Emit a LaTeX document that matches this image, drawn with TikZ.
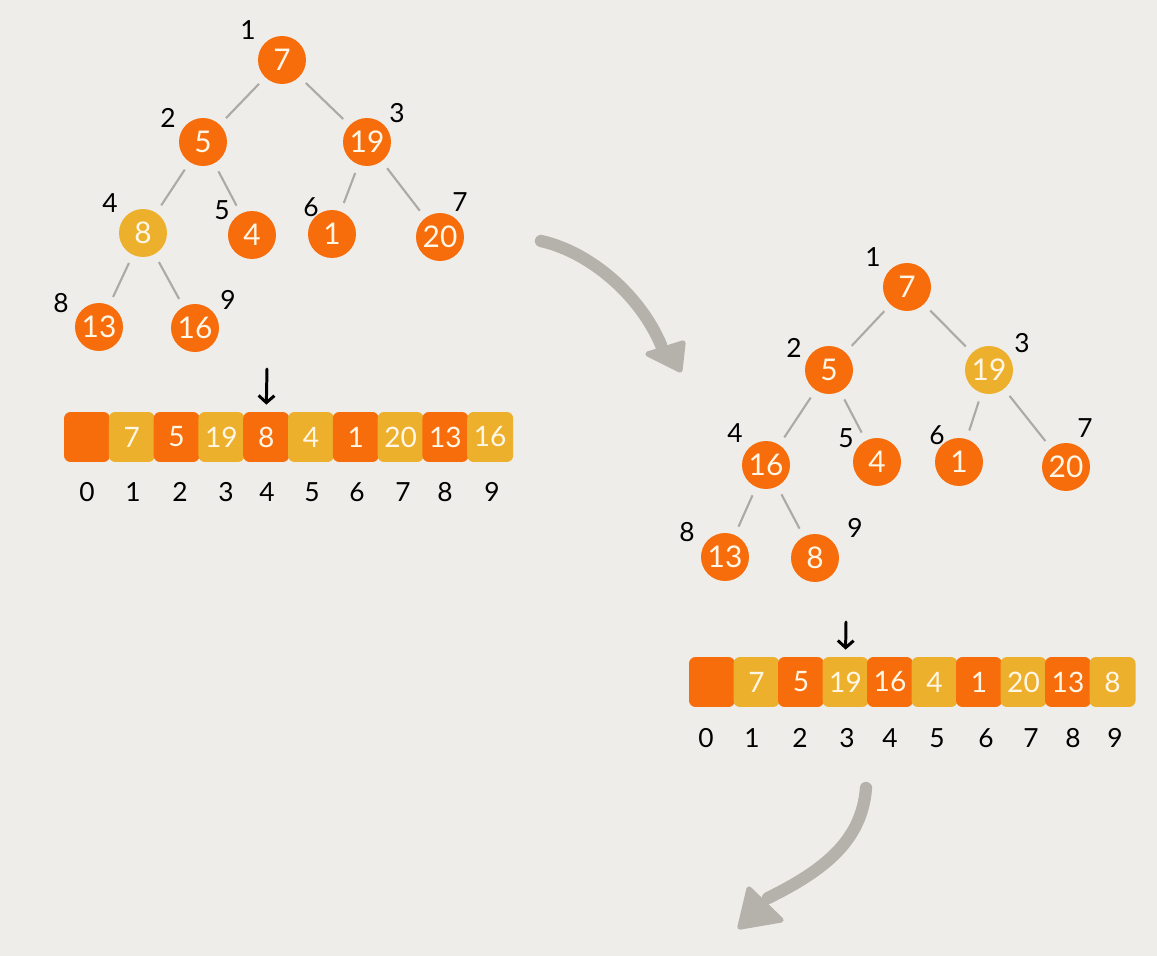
\documentclass[tikz,border=0pt]{standalone}
\usepackage{fontspec}
\setmainfont{Lato}
\usetikzlibrary{arrows.meta}
\definecolor{bg}{HTML}{EEEDE9}
\definecolor{org}{HTML}{F76D0B}
\definecolor{yel}{HTML}{EDB02C}
\definecolor{edgec}{HTML}{ABAAA5}
\definecolor{arrc}{HTML}{B4B2AA}
\definecolor{txt}{HTML}{FFF6E6}
\begin{document}
\begin{tikzpicture}[x=0.02cm,y=-0.02cm,
  onode/.style={circle,fill=org,minimum size=0.96cm,inner sep=0pt,text=txt,font=\fontsize{17}{17}\selectfont},
  ynode/.style={onode,fill=yel},
  lbl/.style={inner sep=0pt,text=black,font=\fontsize{15}{15}\selectfont},
  ocell/.style={rounded corners=0.13cm,fill=org,minimum width=0.92cm,minimum height=1.0cm,inner sep=0pt,text=txt,font=\fontsize{16}{16}\selectfont},
  ycell/.style={ocell,fill=yel},
  tedge/.style={edgec,line width=1.2pt,shorten <=5pt,shorten >=5pt},
  bigarrow/.style={arrc,line width=7pt,line cap=round},
  arrhead/.style={fill=arrc,draw=arrc,line width=3pt,line join=round},
  ptr/.style={-{Straight Barb[length=4pt,width=9pt]},line width=1.7pt,black,line cap=round,shorten >=4pt}
]
\fill[bg] (0,0) rectangle (1157,956);
\useasboundingbox (0,0) rectangle (1157,956);

% ---------- left tree ----------
\node[onode] (a1) at (282,60) {7};
\node[onode] (a2) at (203,142) {5};
\node[onode] (a3) at (367,142) {19};
\node[ynode] (a4) at (143,233) {8};
\node[onode] (a5) at (252,235) {4};
\node[onode] (a6) at (332,234) {1};
\node[onode] (a7) at (440,237) {20};
\node[onode] (a8) at (99,327) {13};
\node[onode] (a9) at (195,328) {16};
\draw[tedge] (a1) -- (a2);
\draw[tedge] (a1) -- (a3);
\draw[tedge] (a2) -- (a4);
\draw[tedge] (a2) -- (a5);
\draw[tedge] (a3) -- (a6);
\draw[tedge] (a3) -- (a7);
\draw[tedge] (a4) -- (a8);
\draw[tedge] (a4) -- (a9);
\node[lbl] (al1) at (248,30) {1};
\node[lbl] (al2) at (168,118) {2};
\node[lbl] (al3) at (397,113) {3};
\node[lbl] (al4) at (110,203) {4};
\node[lbl] (al5) at (222,210) {5};
\node[lbl] (al6) at (311,207) {6};
\node[lbl] (al7) at (460,202) {7};
\node[lbl] (al8) at (61,303) {8};
\node[lbl] (al9) at (228,300) {9};

% ---------- left array ----------
\foreach \i/\v/\s/\lx in {0//ocell/87,1/7/ycell/133,2/5/ocell/180,3/19/ycell/226,4/8/ocell/267,5/4/ycell/312,6/1/ocell/357,7/20/ycell/403,8/13/ocell/445,9/16/ycell/492}{
  \node[\s] (L\i) at ({87+44.8*\i},437) {\v};
  \node[lbl] (Li\i) at (\lx,492) {\i};
}
\coordinate (Lp) at (267,369);
\draw[ptr] (Lp) -- (L4.north);

% ---------- arrow 1 ----------
\coordinate (b1s) at (541,241);
\coordinate (b1e) at (661,345);
\draw[bigarrow] (b1s) .. controls (590,252) and (640,295) .. (b1e);
\coordinate (h1a) at (648,354);
\coordinate (h1b) at (683,343);
\coordinate (h1c) at (680,370);
\filldraw[arrhead] (h1a) -- (h1b) -- (h1c) -- cycle;

% ---------- right tree ----------
\node[onode] (b1) at (907,287) {7};
\node[onode] (b2) at (829,370) {5};
\node[ynode] (b3) at (989,370) {19};
\node[onode] (b4) at (766,465) {16};
\node[onode] (b5) at (877,462) {4};
\node[onode] (b6) at (959,462) {1};
\node[onode] (b7) at (1066,467) {20};
\node[onode] (b8) at (725,557) {13};
\node[onode] (b9) at (815,558) {8};
\draw[tedge] (b1) -- (b2);
\draw[tedge] (b1) -- (b3);
\draw[tedge] (b2) -- (b4);
\draw[tedge] (b2) -- (b5);
\draw[tedge] (b3) -- (b6);
\draw[tedge] (b3) -- (b7);
\draw[tedge] (b4) -- (b8);
\draw[tedge] (b4) -- (b9);
\node[lbl] (bl1) at (873,257) {1};
\node[lbl] (bl2) at (794,348) {2};
\node[lbl] (bl3) at (1022,343) {3};
\node[lbl] (bl4) at (735,433) {4};
\node[lbl] (bl5) at (846,438) {5};
\node[lbl] (bl6) at (937,435) {6};
\node[lbl] (bl7) at (1085,428) {7};
\node[lbl] (bl8) at (687,532) {8};
\node[lbl] (bl9) at (855,528) {9};

% ---------- right array ----------
\foreach \i/\v/\s/\lx in {0//ocell/706,1/7/ycell/752,2/5/ocell/800,3/19/ycell/847,4/16/ocell/890,5/4/ycell/937,6/1/ocell/986,7/20/ycell/1031,8/13/ocell/1073,9/8/ycell/1115}{
  \node[\s] (R\i) at ({712+44.5*\i},682) {\v};
  \node[lbl] (Ri\i) at (\lx,738) {\i};
}
\coordinate (Rp) at (846,622);
\draw[ptr] (Rp) -- (R3.north);

% ---------- arrow 2 ----------
\coordinate (b2s) at (866,788);
\coordinate (b2e) at (768,898);
\draw[bigarrow] (b2s) .. controls (862,840) and (825,870) .. (b2e);
\coordinate (h2a) at (749,889);
\coordinate (h2b) at (781,920);
\coordinate (h2c) at (740,927);
\filldraw[arrhead] (h2a) -- (h2b) -- (h2c) -- cycle;
\end{tikzpicture}
\end{document}
